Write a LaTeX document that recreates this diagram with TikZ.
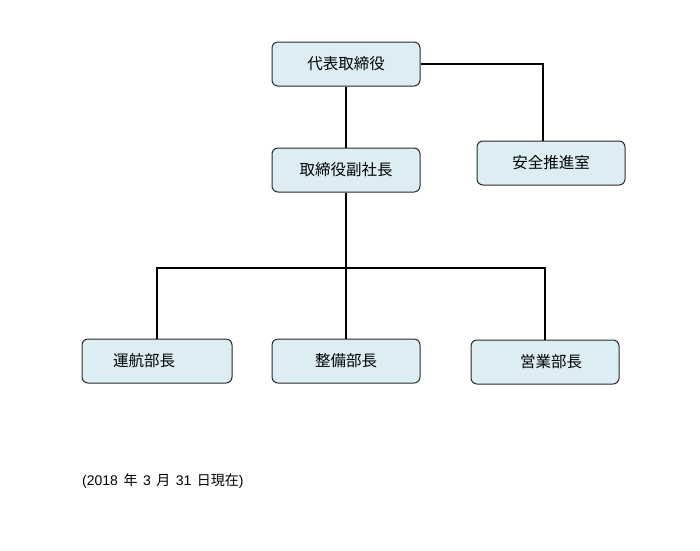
\documentclass[tikz,border=0pt]{standalone}
\usepackage{fontspec}
\setmainfont{Liberation Sans}
\newfontfamily\jpfont{Noto Sans CJK JP}
\usepackage{tikz}
\usetikzlibrary{positioning}
\definecolor{boxFill}{RGB}{220,238,244}
\definecolor{boxLine}{RGB}{40,40,40}
\tikzset{
  org/box/.style={rectangle, rounded corners=6pt, draw=boxLine, fill=boxFill,
    minimum width=148pt, minimum height=44pt, line width=1pt,
    font=\fontsize{15.5}{17}\selectfont\jpfont, inner sep=2pt},
  org/line/.style={line width=1.6pt, draw=black},
  org/note/.style={font=\fontsize{14}{16}\selectfont, anchor=west, inner sep=0pt}
}
\begin{document}
\begin{tikzpicture}[x=1pt, y=-1pt]
  \useasboundingbox (0,0) rectangle (700,550);
  % boxes
  \node[org/box] (ceo)    at (346,64)  {代表取締役};
  \node[org/box] (vp)     at (346,170) {取締役副社長};
  \node[org/box] (safety) at (551,163) {安全推進室};
  \node[org/box, minimum width=150pt] (ops) at (157,361) {運航部長\hspace*{26pt}};
  \node[org/box] (maint)  at (346,361) {整備部長};
  \node[org/box] (sales)  at (545,362) {\hspace*{12pt}営業部長};
  \node[org/note] (date) at (82,481) {(2018\hspace{5.5pt}{\jpfont 年}\hspace{5.5pt}3\hspace{5.5pt}{\jpfont 月}\hspace{5.5pt}31\hspace{5.5pt}{\jpfont 日現在})};

  % connectors
  \coordinate (bus) at (346,268);
  \draw[org/line] (ceo) -- (vp);
  \draw[org/line] (ceo.east) -| ([xshift=-8pt]safety.north);
  \draw[org/line] (vp) -- (maint);
  \draw[org/line] (ops.north) |- (bus) -| (sales.north);
\end{tikzpicture}
\end{document}
